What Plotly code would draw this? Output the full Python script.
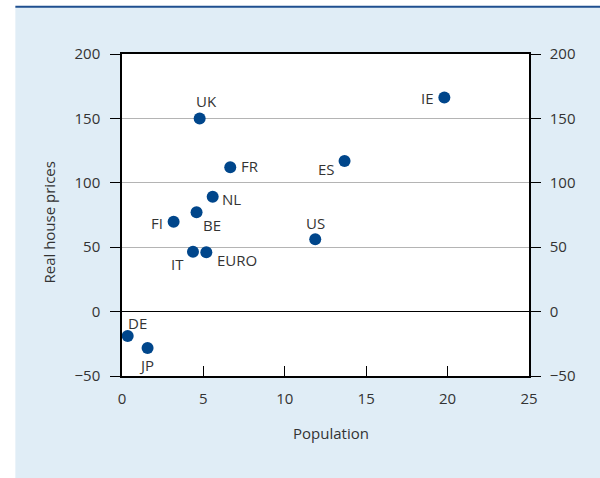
import plotly.graph_objects as go

countries = ['UK', 'IE', 'DE', 'JP', 'FR', 'NL', 'BE', 'FI', 'IT', 'EURO', 'ES', 'US']
population = [4.77, 19.8, 0.35, 1.57, 6.65, 5.57, 4.58, 3.17, 4.36, 5.18, 13.67, 11.87]
house_prices = [150, 166.2, -18.9, -28.2, 112.1, 89.2, 77.1, 69.8, 46.5, 46.0, 117.0, 56.1]

# label offsets from each dot, in pixels (right, down)
label_dx = [7, -17, 10, -1, 20, 19, 15, -17, -15, 31, -18, 0]
label_dy = [-17, 0, -13, 17, -1, 2, 13, 1, 12, 8, 8, -16]

x_ticks = [0, 5, 10, 15, 20, 25]
y_ticks = [-50, 0, 50, 100, 150, 200]

font = 'Open Sans, Noto Sans, sans-serif'
txt = '#333333'
dot = '#00468b'

fig = go.Figure()

fig.add_trace(go.Scatter(
    x=population, y=house_prices,
    mode='markers', marker=dict(color=dot, size=12),
    hoverinfo='skip', showlegend=False,
))

# invisible copy so the right-hand axis gets drawn
fig.add_trace(go.Scatter(
    x=population, y=house_prices, yaxis='y2',
    mode='markers', marker=dict(opacity=0),
    hoverinfo='skip', showlegend=False,
))

for name, xv, yv, dx, dy in zip(countries, population, house_prices, label_dx, label_dy):
    fig.add_annotation(x=xv, y=yv, text=name, showarrow=False,
                       xshift=dx, yshift=-dy,
                       font=dict(family=font, size=15, color=txt))

# axis titles placed as annotations to match the original spacing
fig.add_annotation(xref='paper', yref='paper', x=0.5135, y=-0.178,
                   xanchor='center', yanchor='middle',
                   text='Population', showarrow=False,
                   font=dict(family=font, size=15, color=txt))
fig.add_annotation(xref='paper', yref='paper', x=-0.179, y=0.477,
                   xanchor='center', yanchor='middle',
                   text='Real house prices', textangle=-90, showarrow=False,
                   font=dict(family=font, size=15, color=txt))

# light blue panel and dark blue rule on top
fig.add_shape(type='rect', xref='paper', yref='paper',
              x0=-0.262, x1=1.2, y0=-0.35, y1=1.147,
              fillcolor='#e0edf6', line=dict(width=0), layer='below')
fig.add_shape(type='rect', xref='paper', yref='paper',
              x0=0, x1=1, y0=0, y1=1,
              fillcolor='white', line=dict(width=0), layer='below')
fig.add_shape(type='line', xref='paper', yref='paper',
              x0=-0.262, x1=1.2, y0=1.147, y1=1.147,
              line=dict(color='#1f4f8f', width=2))

fig.update_layout(
    width=600, height=478,
    margin=dict(l=122, r=71, t=54, b=102),
    paper_bgcolor='white', plot_bgcolor='white',
    font=dict(family=font, size=15, color=txt),
    xaxis=dict(
        range=[0, 25], tickvals=x_ticks, ticks='inside', ticklen=10,
        tickcolor='black', showline=True, linecolor='black', linewidth=1.5,
        mirror=True, showgrid=False, zeroline=False, ticklabelstandoff=8,
        automargin=False,
    ),
    yaxis=dict(
        range=[-50, 200], tickvals=y_ticks, ticks='outside', ticklen=10,
        tickcolor='black', showline=True, linecolor='black', linewidth=1.5,
        showgrid=True, gridcolor='#b4b4b4', gridwidth=1,
        zeroline=True, zerolinecolor='black', zerolinewidth=1.2,
        ticklabelstandoff=7, automargin=False,
    ),
    yaxis2=dict(
        range=[-50, 200], tickvals=y_ticks, ticks='outside', ticklen=10,
        tickcolor='black', showline=True, linecolor='black', linewidth=1.5,
        overlaying='y', side='right', showgrid=False, zeroline=False,
        ticklabelstandoff=6, automargin=False,
    ),
)

fig.write_html('out.html', config={'displayModeBar': False},
               post_script="document.body.style.margin='0';")
